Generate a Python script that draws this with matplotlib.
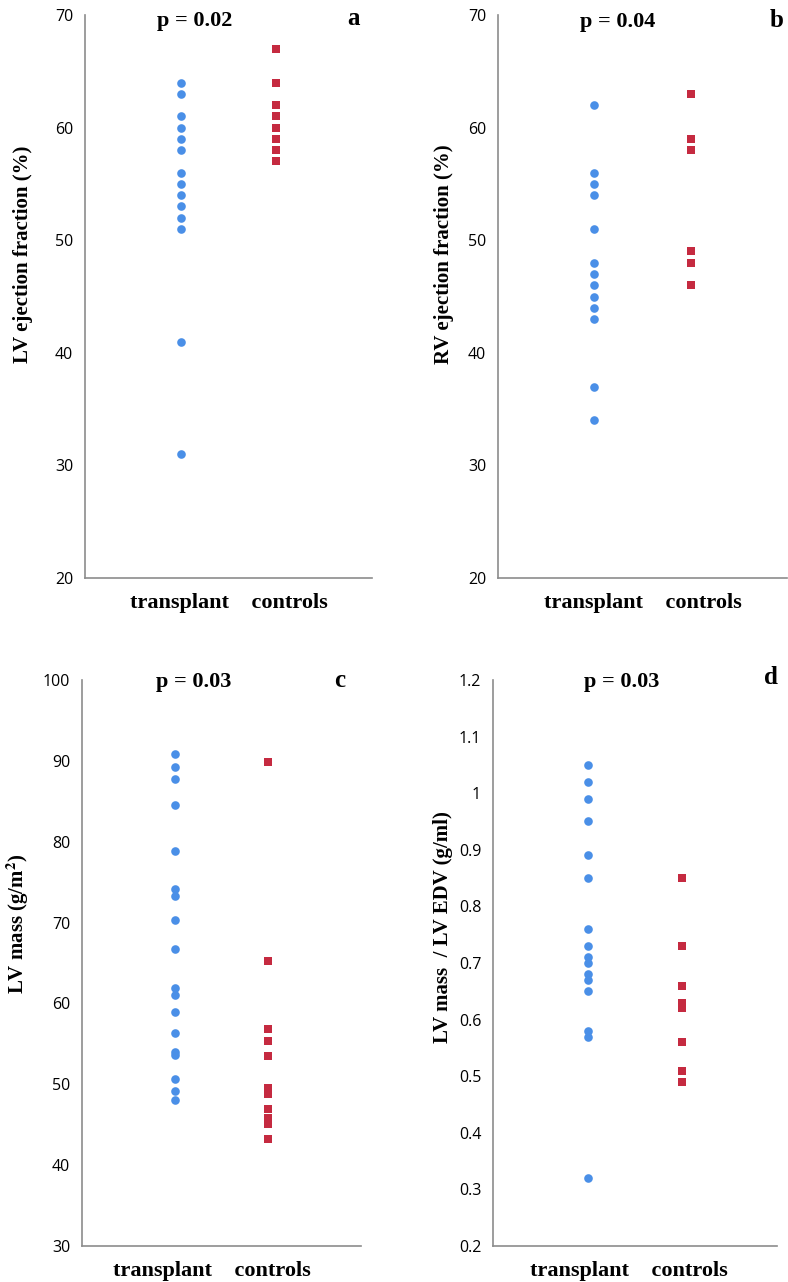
import matplotlib
matplotlib.use('Agg')
import matplotlib.pyplot as plt
from matplotlib.ticker import FuncFormatter

plt.rcParams['mathtext.fontset'] = 'stix'

# panel a: LV ejection fraction (%)
lvef_transplant = [64, 63, 61, 60, 59, 58, 56, 55, 54, 53, 52, 51, 41, 31]
lvef_controls = [67, 64, 62, 61, 60, 59, 58, 57]

# panel b: RV ejection fraction (%)
rvef_transplant = [62, 56, 55, 54, 51, 48, 47, 46, 45, 44, 43, 37, 34]
rvef_controls = [63, 59, 58, 49, 48, 46]

# panel c: LV mass (g/m2)
mass_transplant = [90.8, 89.2, 87.8, 84.5, 78.8, 74.2, 73.3, 70.3, 66.7,
                   61.9, 61.1, 58.9, 56.3, 54.0, 53.6, 50.7, 49.2, 48.0]
mass_controls = [89.8, 65.2, 56.8, 55.4, 53.5, 49.5, 48.8, 47.0, 45.8, 45.1, 43.2]

# panel d: LV mass / LV EDV (g/ml)
ratio_transplant = [1.05, 1.02, 0.99, 0.95, 0.89, 0.85, 0.76, 0.73, 0.71,
                    0.70, 0.68, 0.67, 0.65, 0.58, 0.57, 0.32]
ratio_controls = [0.85, 0.73, 0.66, 0.63, 0.62, 0.56, 0.51, 0.49]

groups = ['transplant', 'controls']
p_values = ['p = 0.02', 'p = 0.04', 'p = 0.03', 'p = 0.03']
letters = ['a', 'b', 'c', 'd']
ylabels = ['LV ejection fraction (%)', 'RV ejection fraction (%)',
           'LV mass (g/m$^{\\mathbf{2}}$)', 'LV mass  / LV EDV (g/ml)']
yranges = [(20, 70, 10), (20, 70, 10), (30, 100, 10), (0.2, 1.2, 0.1)]

BLUE = '#4A8FE7'
RED = '#C52A40'
SPINE = '#8C8C8C'
SERIF = 'Liberation Serif'

fig = plt.figure(figsize=(7.88, 12.82), dpi=100)

# axes boxes [left, bottom, width, height] in figure fraction
boxes = [
    [0.1079, 0.5491, 0.3642, 0.4392],
    [0.6320, 0.5491, 0.3668, 0.4392],
    [0.1041, 0.0281, 0.3541, 0.4415],
    [0.6256, 0.0281, 0.3604, 0.4415],
]
ylabel_pos = [(-0.216, 0.575), (-0.186, 0.575), (-0.231, 0.569), (-0.176, 0.564)]
xlabel_x = [0.50, 0.50, 0.465, 0.48]
p_pos = [(0.382, 0.980), (0.413, 0.979), (0.399, 0.988), (0.454, 0.988)]
letter_pos = [(0.934, 0.982), (0.964, 0.979), (0.925, 0.988), (0.978, 0.993)]

data = [(lvef_transplant, lvef_controls), (rvef_transplant, rvef_controls),
        (mass_transplant, mass_controls), (ratio_transplant, ratio_controls)]

for i in range(4):
    ax = fig.add_axes(boxes[i])
    tr, ct = data[i]
    ax.plot([1] * len(tr), tr, 'o', color=BLUE, markersize=6.2, markeredgewidth=0)
    ax.plot([2] * len(ct), ct, 's', color=RED, markersize=6.2, markeredgewidth=0)

    lo, hi, step = yranges[i]
    ax.set_ylim(lo, hi)
    ax.set_xlim(0, 3)
    n = int(round((hi - lo) / step))
    ax.set_yticks([lo + k * step for k in range(n + 1)])
    ax.yaxis.set_major_formatter(FuncFormatter(lambda v, pos: '%g' % round(v, 2)))
    ax.set_xticks([])
    ax.tick_params(axis='y', length=0, pad=8.5, labelsize=11.5)
    for lab in ax.get_yticklabels():
        lab.set_fontfamily('Open Sans')

    for s in ['top', 'right']:
        ax.spines[s].set_visible(False)
    ax.spines['left'].set_color(SPINE)
    ax.spines['bottom'].set_color(SPINE)
    ax.spines['left'].set_linewidth(1.2)
    ax.spines['bottom'].set_linewidth(1.2)

    ax.set_ylabel(ylabels[i], family=SERIF, fontweight='bold', fontsize=15, va='center')
    ax.yaxis.set_label_coords(*ylabel_pos[i])
    ax.set_xlabel('    '.join(groups), family=SERIF, fontweight='bold', fontsize=16)
    ax.xaxis.set_label_coords(xlabel_x[i], -0.026)
    ax.xaxis.label.set_va('top')

    ax.text(p_pos[i][0], p_pos[i][1], p_values[i], transform=ax.transAxes,
            ha='center', va='baseline', family=SERIF, fontweight='bold', fontsize=16)
    ax.text(letter_pos[i][0], letter_pos[i][1], letters[i], transform=ax.transAxes,
            ha='center', va='baseline', family=SERIF, fontweight='bold', fontsize=18)

fig.savefig('out.png', dpi=100)
